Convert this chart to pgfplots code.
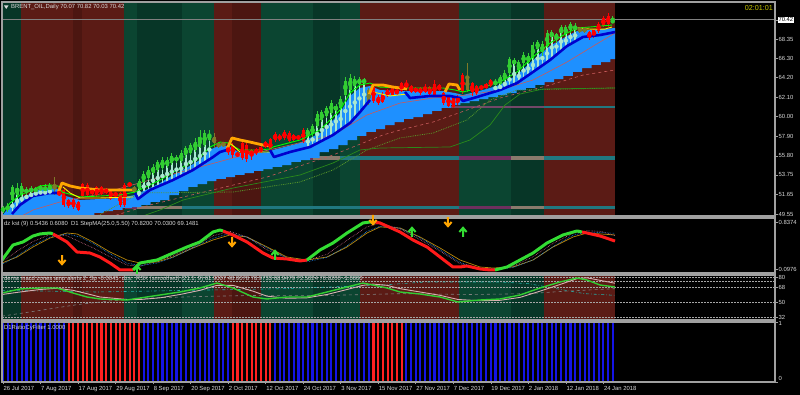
\documentclass[border=0pt]{standalone}
\usepackage{fontspec}
\setmainfont{Liberation Sans}
\usepackage{pgfplots}
\pgfplotsset{compat=1.18}
\usepackage{pgfplotstable}

\definecolor{gL}{HTML}{0B4531}
\definecolor{gD}{HTML}{073627}
\definecolor{rM}{HTML}{5B1B15}
\definecolor{rD}{HTML}{4C1611}
\definecolor{axg}{HTML}{A0A0A0}
\definecolor{txt}{HTML}{D8D8D8}
\definecolor{cbull}{HTML}{32CD32}
\definecolor{cbear}{HTML}{FF0000}
\definecolor{colive}{HTML}{7F7A28}
\definecolor{mint}{HTML}{A8E8D0}
\definecolor{dodger}{HTML}{1E90FF}
\definecolor{mablue}{HTML}{0000CD}
\definecolor{orng}{HTML}{FFA500}
\definecolor{pinkma}{HTML}{C85A5A}
\definecolor{gdot}{HTML}{5A9A2A}
\definecolor{gsol}{HTML}{2A8A1A}
\definecolor{stP}{HTML}{6E2F5E}
\definecolor{stG}{HTML}{8A7A6C}
\definecolor{stT}{HTML}{207880}
\definecolor{kgreen}{HTML}{33DD33}
\definecolor{kred}{HTML}{FF1A1A}
\definecolor{gold}{HTML}{B8860B}
\definecolor{fblue}{HTML}{1414E6}
\definecolor{fred}{HTML}{FF2020}
\definecolor{clk}{HTML}{C8C800}
\definecolor{rsxp}{HTML}{D8B0B0}
\definecolor{teal2}{HTML}{20B2AA}

\pgfdeclareplotmark{darr}{%
 \pgfpathmoveto{\pgfqpoint{0pt}{5pt}}\pgfpathlineto{\pgfqpoint{0pt}{-3.2pt}}%
 \pgfpathmoveto{\pgfqpoint{-3.6pt}{0pt}}\pgfpathlineto{\pgfqpoint{0pt}{-4.2pt}}\pgfpathlineto{\pgfqpoint{3.6pt}{0pt}}%
 \pgfusepathqstroke}
\pgfdeclareplotmark{uarr}{%
 \pgfpathmoveto{\pgfqpoint{0pt}{-5pt}}\pgfpathlineto{\pgfqpoint{0pt}{3.2pt}}%
 \pgfpathmoveto{\pgfqpoint{-3.6pt}{0pt}}\pgfpathlineto{\pgfqpoint{0pt}{4.2pt}}\pgfpathlineto{\pgfqpoint{3.6pt}{0pt}}%
 \pgfusepathqstroke}

\newcommand{\band}[3]{\addplot[fill=#3, draw=none, forget plot] coordinates {(#1,0) (#2,0) (#2,100) (#1,100)};}
\newcommand{\allbands}{%
\band{-0.2132}{3.77}{gD}
\band{3.77}{14.9}{rM}
\band{14.9}{16.85}{rD}
\band{16.85}{25.8}{rM}
\band{25.8}{28.57}{gL}
\band{28.57}{38.17}{gD}
\band{38.17}{45.0}{gL}
\band{45.0}{48.83}{rM}
\band{48.83}{55.0}{rD}
\band{55.0}{66.1}{gL}
\band{66.1}{71.86}{gD}
\band{71.86}{76.12}{gL}
\band{76.12}{97.23}{rM}
\band{97.23}{108.32}{gL}
\band{108.32}{115.35}{gD}
\band{115.35}{130.5}{rM}}

\pgfplotstableread{
i o h l c t
0 49.87 50.41 49.66 50.20 0
1 49.98 50.73 49.77 50.41 0
2 51.05 52.67 50.84 52.45 0
3 51.59 52.88 51.38 52.34 0
4 51.70 52.88 51.27 52.56 0
5 51.81 52.45 51.59 52.24 0
6 51.91 52.56 51.70 52.34 0
7 52.02 52.45 51.81 52.24 0
8 52.13 52.67 51.91 52.56 0
9 52.02 52.77 51.81 52.45 0
10 52.13 52.88 51.81 52.67 0
11 52.45 53.52 51.59 52.34 2
12 51.91 52.13 51.48 51.59 1
13 52.13 52.34 50.30 50.52 1
14 51.05 51.16 50.20 50.41 1
15 51.05 51.27 50.09 50.30 1
16 50.84 50.95 49.87 49.98 1
17 52.77 52.88 51.27 51.48 1
18 52.67 52.88 51.38 51.59 1
19 52.13 52.24 51.59 51.70 1
20 52.45 52.56 51.38 51.59 1
21 52.45 52.56 51.59 51.70 1
22 52.24 52.34 51.70 51.81 1
23 52.13 52.24 51.05 51.16 1
24 51.81 51.91 51.38 51.48 1
25 51.81 51.91 50.30 50.52 1
26 52.67 52.88 50.30 50.52 1
27 52.88 52.99 52.45 52.56 1
28 52.34 52.56 51.81 52.13 2
29 52.24 53.31 52.13 53.09 0
30 52.99 54.17 52.88 53.85 0
31 53.42 54.71 53.20 54.28 0
32 53.95 54.92 53.74 54.60 0
33 54.28 55.35 54.06 55.14 0
34 54.49 55.67 54.28 55.35 0
35 54.71 55.67 54.49 55.35 0
36 55.03 56.10 54.81 55.78 0
37 55.24 55.89 55.03 55.67 0
38 55.24 56.43 55.03 56.10 0
39 55.89 56.86 55.57 56.64 0
40 56.10 57.18 55.89 56.96 0
41 56.43 57.72 56.21 57.28 0
42 56.75 58.57 56.64 57.82 0
43 56.96 58.57 56.75 58.25 0
44 57.50 58.57 57.39 58.14 0
45 57.82 58.25 56.64 57.18 2
46 57.07 57.28 56.64 56.86 2
47 57.18 57.28 56.75 56.96 2
48 56.75 56.86 55.89 56.21 1
49 56.96 57.18 55.57 55.89 1
50 56.10 56.21 55.67 55.78 1
51 57.18 57.28 55.35 55.57 1
52 56.96 57.18 55.14 55.46 1
53 56.43 56.53 55.35 55.78 1
54 56.53 56.64 55.89 56.10 1
55 56.75 56.86 56.10 56.21 1
56 57.28 57.39 56.64 56.75 1
57 57.61 57.72 56.10 56.32 1
58 58.14 58.36 57.28 57.50 1
59 57.93 58.14 57.39 57.61 1
60 58.36 58.57 57.50 57.72 1
61 58.25 58.47 57.18 57.39 1
62 58.04 58.14 57.39 57.50 1
63 57.93 58.04 57.50 57.61 1
64 58.57 58.79 57.18 57.39 1
65 57.93 58.79 57.72 58.57 0
66 58.14 59.22 57.82 59.00 0
67 59.00 60.62 58.79 60.29 0
68 59.65 60.72 59.43 60.51 0
69 60.08 61.15 59.86 60.94 0
70 60.40 61.80 60.19 61.47 0
71 60.72 61.37 60.40 61.15 0
72 60.94 62.23 60.72 61.90 0
73 62.33 64.27 62.23 63.84 0
74 62.87 64.59 62.66 64.16 0
75 63.30 64.38 63.09 64.05 0
76 63.52 64.27 63.30 64.05 0
77 63.73 64.16 63.41 63.95 0
78 62.87 63.09 61.26 61.47 2
79 63.19 63.41 61.47 61.69 1
80 62.12 62.33 61.26 61.47 1
81 62.44 62.66 61.47 61.58 1
82 62.87 62.98 62.12 62.23 1
83 63.09 63.30 62.23 62.33 1
84 62.87 63.09 62.33 62.44 1
85 63.62 63.73 62.66 62.76 1
86 63.62 63.95 62.98 63.09 1
87 63.30 63.41 62.55 62.66 1
88 63.09 63.19 62.55 62.66 1
89 63.09 63.19 62.33 62.55 1
90 63.19 63.52 62.55 62.66 1
91 63.19 63.30 62.23 62.44 1
92 63.52 63.95 62.12 62.33 1
93 63.41 63.52 62.76 62.87 1
94 62.55 62.66 61.26 61.47 1
95 62.12 62.33 61.05 61.15 1
96 62.12 62.23 60.94 61.05 1
97 62.12 62.33 61.26 61.47 1
98 64.48 64.70 62.44 62.66 1
99 64.16 65.77 62.66 62.87 2
100 63.62 63.73 62.23 62.66 1
101 63.30 63.41 62.33 62.55 1
102 63.30 63.41 62.87 62.98 1
103 63.52 63.62 62.98 63.09 1
104 63.95 64.05 63.19 63.30 1
105 63.41 64.05 63.30 63.84 0
106 63.52 64.48 63.41 64.27 0
107 63.95 65.02 63.73 64.70 0
108 64.70 66.42 64.48 66.20 0
109 65.66 66.31 65.45 66.09 0
110 65.02 66.09 64.81 65.88 0
111 65.77 66.95 65.56 66.63 0
112 65.88 66.85 65.66 66.52 0
113 66.31 68.03 66.09 67.71 0
114 67.28 68.24 67.17 68.03 0
115 66.95 68.14 66.52 67.81 0
116 67.60 69.32 67.38 68.99 0
117 68.57 69.32 68.24 69.10 0
118 68.35 68.99 67.92 68.89 0
119 68.99 69.85 68.57 69.64 0
120 68.89 69.85 68.57 69.64 0
121 69.32 70.18 68.99 69.96 0
122 69.32 70.07 69.10 69.75 0
123 69.53 69.64 68.99 69.21 2
124 69.53 69.64 68.99 69.21 2
125 69.10 69.21 68.24 68.46 1
126 69.32 69.42 68.46 68.67 1
127 69.96 70.18 68.99 69.21 1
128 70.61 70.82 69.64 69.75 1
129 70.82 71.14 69.64 69.96 1
130 70.07 70.82 70.03 70.42 0
}\candles

\pgfplotstableread{
i m o
2 49.77 51.05
3 50.30 51.59
4 50.62 51.70
5 50.95 51.81
6 51.27 51.91
7 51.48 52.02
8 51.59 52.13
9 51.70 52.02
10 51.81 52.13
29 51.38 52.24
30 52.02 52.99
31 52.13 53.42
32 52.34 53.95
33 52.56 54.28
34 52.77 54.49
35 52.99 54.71
36 53.20 55.03
37 53.42 55.24
38 53.63 55.24
39 53.95 55.89
40 54.17 56.10
41 54.49 56.43
42 54.81 56.75
43 55.14 56.96
44 55.46 57.50
65 56.75 57.93
66 56.96 58.14
67 57.28 59.00
68 57.50 59.65
69 57.72 60.08
70 57.93 60.40
71 58.25 60.72
72 58.57 60.94
73 58.90 62.33
74 59.33 62.87
75 59.76 63.30
76 60.40 63.52
77 61.05 63.73
105 62.76 63.41
106 62.87 63.52
107 63.09 63.95
108 63.30 64.70
109 63.52 65.66
110 63.73 65.02
111 64.16 65.77
112 64.48 65.88
113 64.81 66.31
114 65.23 67.28
115 65.66 66.95
116 65.99 67.60
117 66.31 68.57
118 66.74 68.35
119 67.17 68.99
120 67.49 68.89
121 67.81 69.32
122 68.14 69.32
}\mintbars

\pgfplotsset{
 base/.style={anchor=south west, scale only axis, width=773pt,
  xmin=-0.2132, xmax=164.606, axis on top,
  axis line style={draw=axg, line width=1.3pt},
  tick style={draw=axg, line width=0.5pt}, tick align=outside, major tick length=2.5pt,
  ytick pos=right, yticklabel pos=right, xtick=\empty,
  ticklabel style={font=\fontsize{5.9}{6}\selectfont, text=txt, inner sep=1pt},
  yticklabel style={anchor=west},
  clip=true},
 wick/.style={color=#1, only marks, mark=none, forget plot, error bars/.cd, y dir=both, y explicit, error mark=none,
   error bar style={line width=0.9pt, color=#1}},
 body/.style={color=#1, only marks, mark=none, forget plot, error bars/.cd, y dir=both, y explicit, error mark=none,
   error bar style={line width=3pt, color=#1}},
}

\begin{document}
\begin{tikzpicture}
\useasboundingbox (0,0) rectangle (800pt,395pt);
\fill[black] (0,0) rectangle (800pt,395pt);

% ===== main pane =====
\begin{axis}[base, at={(2pt,179pt)}, height=214pt, ymin=49.335, ymax=72.33,
  ytick={49.55,51.65,53.75,55.80,57.90,60.00,62.10,64.20,66.30,68.35},
  yticklabels={49.55,51.65,53.75,55.80,57.90,60.00,62.10,64.20,66.30,68.35},
  extra y ticks={70.42}, extra y tick labels={70.42},
  extra y tick style={yticklabel style={fill=white, text=black, inner sep=0.8pt}}]
\allbands
% strips and levels
\addplot[line width=4pt, draw=stP] coordinates {(57.57,55.57) (66.10,55.57)};
\addplot[line width=4pt, draw=stG] coordinates {(66.10,55.57) (71.86,55.57)};
\addplot[line width=4pt, draw=stT] coordinates {(71.86,55.57) (97.23,55.57)};
\addplot[line width=4pt, draw=stP] coordinates {(97.23,55.57) (108.32,55.57)};
\addplot[line width=4pt, draw=stG] coordinates {(108.32,55.57) (115.35,55.57)};
\addplot[line width=4pt, draw=stT] coordinates {(115.35,55.57) (130.5,55.57)};
\addplot[line width=3pt, draw=stP] coordinates {(26.0,50.20) (28.57,50.20)};
\addplot[line width=3pt, draw=stG] coordinates {(28.57,50.20) (38.17,50.20)};
\addplot[line width=3pt, draw=stT] coordinates {(38.17,50.20) (97.23,50.20)};
\addplot[line width=3pt, draw=stP] coordinates {(97.23,50.20) (108.32,50.20)};
\addplot[line width=3pt, draw=stG] coordinates {(108.32,50.20) (115.35,50.20)};
\addplot[line width=3pt, draw=stT] coordinates {(115.35,50.20) (130.5,50.20)};
\addplot[line width=1.2pt, draw=stP!70!gray] coordinates {(75.0,61.05) (115.35,61.05)};
\addplot[line width=1.2pt, draw=stT] coordinates {(115.35,61.05) (130.5,61.05)};
\addplot[line width=0.8pt, draw=gray] coordinates {(-0.2132,70.42) (164.606,70.42)};
% blue cloud: upper edge left to right, then stepped lower edge back
\addplot[fill=dodger, draw=none] coordinates {(-0.2,49.34) (1.49,50.41) (3.62,51.27) (6.40,51.81) (7.89,52.24) (10.02,52.34) (11.73,52.24) (12.58,51.59) (16.42,51.05) (20.68,51.16) (24.95,51.27) (28.14,51.59) (31.34,52.34) (33.48,52.88) (36.25,53.74) (38.38,54.28) (42.00,55.35) (44.14,56.43) (46.27,56.96) (47.97,56.86) (50.53,56.10) (54.16,56.10) (56.93,56.21) (57.57,56.43) (63.33,57.18) (67.59,58.25) (71.86,60.40) (73.99,62.23) (76.12,63.09) (78.25,63.30) (80.38,62.87) (84.65,62.76) (93.82,62.76) (96.38,62.55) (98.08,62.33) (102.35,62.87) (105.97,63.41) (109.59,64.48) (113.01,66.09) (116.63,67.60) (120.26,68.67) (122.39,69.21) (125.16,69.32) (130.5,69.53)
(130.5,66.20) (129.5,66.20) (129.5,65.88) (127.5,65.88) (127.5,65.56) (125.5,65.56) (125.5,65.23) (123.5,65.23) (123.5,64.81) (121.5,64.81) (121.5,64.38) (119.5,64.38) (119.5,64.05) (117.5,64.05) (117.5,63.73) (115.5,63.73) (115.5,63.41) (113.5,63.41) (113.5,63.09) (111.5,63.09) (111.5,62.87) (109.5,62.87) (109.5,62.55) (107.5,62.55) (107.5,62.33) (105.5,62.33) (105.5,62.12) (103.5,62.12) (103.5,61.90) (101.5,61.90) (101.5,61.69) (99.5,61.69) (99.5,61.47) (97.5,61.47) (97.5,61.26) (95.5,61.26) (95.5,60.94) (93.5,60.94) (93.5,60.62) (91.5,60.62) (91.5,60.29) (89.5,60.29) (89.5,59.97) (87.5,59.97) (87.5,59.76) (85.5,59.76) (85.5,59.43) (83.5,59.43) (83.5,59.11) (81.5,59.11) (81.5,58.68) (79.5,58.68) (79.5,58.36) (77.5,58.36) (77.5,57.93) (75.5,57.93) (75.5,57.50) (73.5,57.50) (73.5,56.96) (71.5,56.96) (71.5,56.53) (69.5,56.53) (69.5,56.21) (67.5,56.21) (67.5,55.57) (65.5,55.57) (65.5,55.35) (63.5,55.35) (63.5,55.14) (61.5,55.14) (61.5,54.81) (59.5,54.81) (59.5,54.60) (57.5,54.60) (57.5,54.38) (55.5,54.38) (55.5,54.17) (53.5,54.17) (53.5,53.95) (51.5,53.95) (51.5,53.74) (49.5,53.74) (49.5,53.52) (47.5,53.52) (47.5,53.31) (45.5,53.31) (45.5,53.09) (43.5,53.09) (43.5,52.77) (41.5,52.77) (41.5,52.45) (39.5,52.45) (39.5,52.02) (37.5,52.02) (37.5,51.59) (35.5,51.59) (35.5,51.05) (33.5,51.05) (33.5,50.84) (31.5,50.84) (31.5,50.52) (29.5,50.52) (29.5,50.30) (27.5,50.30) (27.5,50.20) (25.5,50.20) (25.5,49.98) (23.5,49.98) (23.5,49.87) (21.5,49.87) (21.5,49.66) (19.5,49.66) (19.5,49.44) (17.5,49.44) (17.5,49.23) (-0.2,49.23)};
% moving averages
\addplot[pinkma, line width=0.6pt] coordinates {(3.62,49.23) (6.40,49.98) (12.15,50.84) (20.68,51.70) (31.34,53.20) (42.00,54.60) (49.04,55.57) (57.57,56.53) (70.36,58.04) (77.61,60.19) (84.65,61.47) (91.68,62.01) (98.93,62.33) (105.97,62.87) (113.01,63.95) (120.26,65.88) (127.29,68.03) (130.49,68.99)};
\addplot[pinkma, line width=0.6pt, dashed] coordinates {(22.81,49.23) (31.34,50.52) (42.00,51.81) (56.29,53.52) (70.36,55.89) (81.02,58.04) (84.65,58.57) (91.68,59.43) (98.93,60.72) (105.97,62.01) (116.63,63.41) (123.67,64.48) (130.49,65.02)};
\addplot[gdot, line width=0.8pt, densely dotted] coordinates {(20,49.30) (29.2,51.81) (49.04,51.91) (63.33,52.99) (70.36,54.28) (77.61,56.43) (84.65,57.72) (91.68,58.25) (98.93,59.65) (103.84,61.80) (109.59,62.87) (130.49,63.09)};
\addplot[gsol, line width=0.7pt] coordinates {(29.21,49.23) (33.48,49.98) (38.38,51.05) (49.04,52.34) (63.33,53.74) (70.36,55.03) (76.12,56.43) (80.38,56.64) (95.31,56.75) (99.57,57.50) (103.84,59.11) (107.04,61.26) (110.23,62.44) (115.14,62.98) (130.49,63.09)};
% mint bars and candles
\addplot[color=mint, only marks, mark=none, error bars/.cd, y dir=both, y explicit, error mark=none, error bar style={line width=1.7pt, color=mint}]
  table[x=i, y expr={(\thisrow{m}+\thisrow{o})/2}, y error expr={(\thisrow{o}-\thisrow{m})/2}] {\mintbars};
\addplot[restrict expr to domain={\thisrow{t}}{0:0}, wick=cbull] table[x=i, y expr={(\thisrow{h}+\thisrow{l})/2}, y error expr={(\thisrow{h}-\thisrow{l})/2}] {\candles};
\addplot[restrict expr to domain={\thisrow{t}}{0:0}, body=cbull] table[x=i, y expr={(\thisrow{o}+\thisrow{c})/2}, y error expr={max(abs(\thisrow{c}-\thisrow{o})/2,0.06)}] {\candles};
\addplot[restrict expr to domain={\thisrow{t}}{1:1}, wick=cbear] table[x=i, y expr={(\thisrow{h}+\thisrow{l})/2}, y error expr={(\thisrow{h}-\thisrow{l})/2}] {\candles};
\addplot[restrict expr to domain={\thisrow{t}}{1:1}, body=cbear] table[x=i, y expr={(\thisrow{o}+\thisrow{c})/2}, y error expr={max(abs(\thisrow{c}-\thisrow{o})/2,0.06)}] {\candles};
\addplot[restrict expr to domain={\thisrow{t}}{2:2}, wick=colive] table[x=i, y expr={(\thisrow{h}+\thisrow{l})/2}, y error expr={(\thisrow{h}-\thisrow{l})/2}] {\candles};
\addplot[restrict expr to domain={\thisrow{t}}{2:2}, body=colive] table[x=i, y expr={(\thisrow{o}+\thisrow{c})/2}, y error expr={max(abs(\thisrow{c}-\thisrow{o})/2,0.06)}] {\candles};
% trend lines
\addplot[green, line width=0.9pt] coordinates {(-0.2,49.66) (1.49,50.73) (3.62,51.59) (6.40,52.13) (7.89,52.56) (10.02,52.67) (11.73,52.56) (12.58,51.91) (16.42,51.38) (20.68,51.48) (24.95,51.59) (28.14,51.91) (31.34,52.67) (33.48,53.20) (36.25,54.06) (38.38,54.60) (42.00,55.67) (44.14,56.75) (46.27,57.28) (47.97,57.18) (50.53,56.43) (54.16,56.43) (56.93,56.53) (57.57,56.75) (63.33,57.50) (67.59,58.57) (71.86,60.72) (73.99,62.55) (76.12,63.41) (78.25,63.62) (80.38,63.19) (84.65,63.09) (93.82,63.09) (96.38,62.87) (98.08,62.66) (102.35,63.19) (105.97,63.73) (109.59,64.81) (113.01,66.42) (116.63,67.92) (120.26,68.99) (122.39,69.53) (125.16,69.64) (129.85,69.85)};
\addplot[yellow, line width=0.9pt] coordinates {(12.79,52.45) (14.30,51.81) (16.42,51.27) (20.68,51.27) (27.72,51.38)};
\addplot[yellow, line width=0.9pt] coordinates {(48.40,57.18) (50.53,56.21) (54.16,56.21) (56.93,56.21)};
\addplot[yellow, line width=0.9pt] coordinates {(78.89,62.66) (82.52,62.23) (86.14,62.44)};
\addplot[yellow, line width=0.9pt] coordinates {(122.60,69.53) (125.16,69.42) (128.36,69.42) (129.85,69.64)};
\addplot[orng, line width=2.8pt, line join=round] coordinates {(11.73,51.81) (12.58,52.88) (14.30,52.56) (16.42,52.34) (20.68,52.13) (27.72,52.13) (28.14,52.02)};
\addplot[orng, line width=2.8pt, line join=round] coordinates {(47.76,56.53) (48.83,57.72) (50.53,57.50) (52.67,57.28) (55.44,56.96) (56.93,56.86)};
\addplot[orng, line width=2.8pt, line join=round] coordinates {(78.04,62.33) (78.89,63.41) (81.02,63.41) (83.16,63.19) (84.65,63.09) (86.14,62.98)};
\addplot[orng, line width=2.8pt, line join=round] coordinates {(94.24,62.66) (95.10,63.52) (96.80,63.41) (97.44,62.87)};
\addplot[mablue, line width=2.6pt, line join=round] coordinates {(1.92,49.55) (3.62,50.52) (6.40,51.49) (10.02,51.81) (11.73,51.81)};
\addplot[mablue, line width=2.6pt, line join=round] coordinates {(28.14,51.81) (28.78,51.16) (31.34,52.13) (36.25,53.20) (40.51,54.28) (44.78,55.67) (46.27,56.21) (47.76,56.43)};
\addplot[mablue, line width=2.6pt, line join=round] coordinates {(56.93,56.43) (57.78,55.67) (61.19,56.21) (65.46,56.75) (70.36,58.04) (73.99,59.33) (76.12,60.51) (78.25,61.80)};
\addplot[mablue, line width=2.6pt, line join=round] coordinates {(85.71,62.66) (86.78,62.01) (91.04,62.23) (95.31,62.23) (97.44,62.01) (98.08,61.69) (101.07,62.12) (105.97,62.87) (109.59,63.62) (113.01,64.81) (116.63,66.09) (120.26,67.60) (123.67,68.57) (127.29,68.78) (130.49,69.10)};
\end{axis}

% ===== KST pane =====
\begin{axis}[base, at={(2pt,122pt)}, height=55pt, ymin=0.0346, ymax=0.9003,
  ytick={0.0976,0.8374}, yticklabels={0.0976,0.8374}]
\addplot[gold, line width=0.7pt] coordinates {(-0.21,0.192) (2.99,0.286) (6.40,0.444) (10.02,0.585) (13.65,0.664) (15.78,0.649) (19.19,0.523) (22.81,0.365) (26.44,0.239) (29.21,0.192) (32.84,0.208) (36.25,0.286) (40.51,0.428) (44.78,0.554) (48.40,0.633) (52.03,0.601) (56.29,0.444) (60.55,0.286) (64.82,0.239) (69.08,0.286) (73.35,0.444) (77.61,0.664) (80.38,0.759) (84.65,0.743) (88.91,0.601) (93.18,0.428) (97.44,0.239) (101.71,0.129) (104.48,0.113) (108.74,0.129) (113.01,0.239) (117.27,0.444) (121.54,0.601) (124.52,0.664) (130.49,0.633)};
\addplot[color={rgb,255:red,208;green,112;blue,144}, line width=0.6pt, densely dotted] coordinates {(-0.21,0.21) (2.99,0.38) (6.40,0.53) (10.02,0.64) (13.65,0.62) (16.5,0.52) (19.19,0.43) (22.81,0.29) (26.44,0.16) (29.21,0.14) (32.84,0.22) (36.25,0.31) (40.51,0.44) (44.78,0.62) (48.40,0.69) (52.03,0.60) (56.29,0.40) (60.55,0.27) (64.82,0.23) (69.08,0.33) (73.35,0.55) (77.61,0.76) (80.38,0.82) (84.65,0.73) (88.91,0.56) (93.18,0.38) (97.44,0.18) (101.71,0.11) (104.48,0.10) (108.74,0.14) (113.01,0.29) (117.27,0.50) (121.54,0.66) (124.52,0.70) (127.5,0.69) (130.49,0.62)};
\addplot[dodger, line width=0.6pt, densely dotted] coordinates {(-0.21,0.17) (2.99,0.30) (6.40,0.47) (10.02,0.60) (13.65,0.65) (16.5,0.60) (19.19,0.50) (22.81,0.34) (26.44,0.19) (29.21,0.15) (32.84,0.19) (36.25,0.28) (40.51,0.43) (44.78,0.58) (48.40,0.66) (52.03,0.60) (56.29,0.43) (60.55,0.27) (64.82,0.21) (69.08,0.28) (73.35,0.46) (77.61,0.69) (80.38,0.77) (84.65,0.74) (88.91,0.59) (93.18,0.40) (97.44,0.20) (101.71,0.10) (104.48,0.09) (108.74,0.12) (113.01,0.24) (117.27,0.45) (121.54,0.63) (124.52,0.68) (130.49,0.66)};
\addplot[kgreen, line width=3pt, line join=round] coordinates {(-0.21,0.239) (2.13,0.475) (4.26,0.523) (6.40,0.617) (7.89,0.649) (10.02,0.664) (10.66,0.649)};
\addplot[kred, line width=3pt, line join=round] coordinates {(10.66,0.649) (13.65,0.523) (15.78,0.365) (18.55,0.349) (20.68,0.286) (22.81,0.192) (24.95,0.082) (27.72,0.082)};
\addplot[kgreen, line width=3pt, line join=round] coordinates {(27.72,0.082) (29.21,0.192) (32.84,0.239) (36.25,0.349) (39.23,0.444) (42.00,0.523) (44.78,0.680) (46.27,0.711) (46.91,0.696)};
\addplot[kred, line width=3pt, line join=round] coordinates {(46.91,0.696) (49.04,0.633) (52.03,0.523) (55.44,0.349) (57.57,0.271) (60.55,0.255) (63.33,0.224) (64.82,0.239)};
\addplot[kgreen, line width=3pt, line join=round] coordinates {(64.82,0.239) (67.59,0.397) (70.36,0.507) (73.35,0.664) (76.76,0.822) (78.25,0.837) (79.32,0.837)};
\addplot[kred, line width=3pt, line join=round] coordinates {(79.32,0.837) (80.38,0.822) (84.65,0.680) (87.42,0.554) (90.41,0.444) (93.18,0.286) (95.95,0.129) (97.44,0.129) (98.93,0.145) (101.71,0.098) (103.84,0.082) (104.90,0.082)};
\addplot[kgreen, line width=3pt, line join=round] coordinates {(104.90,0.082) (107.46,0.129) (110.23,0.239) (113.01,0.349) (115.99,0.507) (119.40,0.633) (122.39,0.696) (123.45,0.680)};
\addplot[kred, line width=3pt, line join=round] coordinates {(123.45,0.680) (124.52,0.664) (127.29,0.617) (130.49,0.538)};
\addplot[only marks, mark=darr, mark options={draw=orng, line width=2pt}] coordinates {(12.58,0.239) (48.83,0.523) (78.89,0.869) (94.88,0.837)};
\addplot[only marks, mark=uarr, mark options={draw=kgreen, line width=2pt}] coordinates {(28.57,0.082) (58.0,0.318) (87.2,0.680) (98.08,0.680)};
\end{axis}

% ===== RSX pane =====
\begin{axis}[base, at={(2pt,75pt)}, height=45pt, ymin=28.4, ymax=82.4,
  ytick={32,50,68,80}, yticklabels={32,50,68,80}]
\allbands
\addplot[gray!70, line width=0.4pt, dash pattern=on 1.5pt off 1.5pt] coordinates {(-0.2132,80) (164.606,80)};
\addplot[gray!70, line width=0.4pt, dash pattern=on 1.5pt off 1.5pt] coordinates {(-0.2132,75) (164.606,75)};
\addplot[gray!70, line width=0.4pt, dash pattern=on 1.5pt off 1.5pt] coordinates {(-0.2132,68) (164.606,68)};
\addplot[gray!70, line width=0.4pt, dash pattern=on 1.5pt off 1.5pt] coordinates {(-0.2132,50) (164.606,50)};
\addplot[gray!70, line width=0.4pt, dash pattern=on 1.5pt off 1.5pt] coordinates {(-0.2132,32) (164.606,32)};
\addplot[teal2, line width=0.6pt, dash dot] coordinates {(-0.21,64) (20,62) (40,64) (60,66) (80,70) (90,74) (106,74) (112,72) (118,66) (124,60) (130.49,58)};
\addplot[gray, line width=0.6pt, dashed] coordinates {(-0.21,33) (8,40) (16,47) (24,52) (32,55) (45,57) (56,58) (70,58) (85,60) (100,59) (112,60) (120,63) (130.49,66)};
\addplot[rsxp, line width=0.9pt] coordinates {(-0.21,59) (3.62,62) (7.89,65) (11.51,66.5) (14.93,64) (17.91,60) (20.68,56) (26.44,53) (29.21,53) (33.48,55) (37.74,59) (42.00,64) (45.63,70) (49.04,70) (53.30,63) (56.29,57) (60.55,54.5) (64.82,55) (69.08,59) (73.35,65) (76.76,70) (78.89,71.5) (81.88,70) (84.65,66) (88.91,62) (93.18,58) (97.01,53) (101.71,51.5) (105.97,52) (110.23,55.5) (114.50,63) (118.76,71) (122.39,78) (124.52,79) (127.29,76) (130.49,72.5)};
\addplot[cbull, line width=1.4pt] coordinates {(-0.21,60.8) (3.62,65.6) (7.89,66.8) (11.51,66.8) (14.93,60.8) (17.91,56.0) (20.68,53.6) (26.44,52.4) (29.21,54.8) (33.48,58.4) (37.74,62.0) (42.00,66.8) (45.63,72.8) (49.04,66.8) (53.30,56.0) (56.29,53.6) (60.55,56.0) (64.82,56.0) (69.08,62.0) (73.35,68.0) (76.76,72.8) (78.89,70.4) (81.88,66.8) (84.65,62.0) (88.91,59.6) (93.18,56.0) (97.01,50.0) (101.71,52.4) (105.97,53.6) (110.23,58.4) (114.50,66.8) (118.76,74.0) (122.39,78.8) (124.52,76.4) (127.29,70.4) (130.49,68.0)};
\end{axis}

% ===== filter pane =====
\begin{axis}[base, at={(2pt,13pt)}, height=60pt, ymin=0, ymax=1,
  ytick={0}, yticklabels={0}, yticklabel style={yshift=4pt},
  extra y ticks={1}, extra y tick labels={1}, extra y tick style={yticklabel style={yshift=-5pt}},
  xtick={0,8,16,24,32,40,48,56,64,72,80,88,96,104,112,120,128}, xtick pos=bottom,
  xticklabels={26 Jul 2017,7 Aug 2017,17 Aug 2017,29 Aug 2017,8 Sep 2017,20 Sep 2017,2 Oct 2017,12 Oct 2017,24 Oct 2017,3 Nov 2017,15 Nov 2017,27 Nov 2017,7 Dec 2017,19 Dec 2017,2 Jan 2018,12 Jan 2018,24 Jan 2018},
  xticklabel style={anchor=north west, inner sep=0pt, yshift=-1.5pt, xshift=0.5pt}]
\addplot[ycomb, draw=fblue, line width=2.1pt] coordinates {(0,1) (1,1) (2,1) (3,1) (4,1) (5,1) (6,1) (7,1) (8,1) (9,1) (10,1) (11,1) (12,1) (13,1) (30,1) (31,1) (32,1) (33,1) (34,1) (35,1) (36,1) (37,1) (38,1) (39,1) (40,1) (41,1) (42,1) (43,1) (44,1) (45,1) (46,1) (47,1) (48,1) (58,1) (59,1) (60,1) (61,1) (62,1) (63,1) (64,1) (65,1) (66,1) (67,1) (68,1) (69,1) (70,1) (71,1) (72,1) (73,1) (74,1) (75,1) (76,1) (77,1) (78,1) (86,1) (87,1) (88,1) (89,1) (90,1) (91,1) (92,1) (93,1) (94,1) (95,1) (96,1) (97,1) (98,1) (99,1) (100,1) (101,1) (102,1) (103,1) (104,1) (105,1) (106,1) (107,1) (108,1) (109,1) (110,1) (111,1) (112,1) (113,1) (114,1) (115,1) (116,1) (117,1) (118,1) (119,1) (120,1) (121,1) (122,1) (123,1) (124,1) (125,1) (126,1) (127,1) (128,1) (129,1) (130,1)};
\addplot[ycomb, draw=fred, line width=2.1pt] coordinates {(14,1) (15,1) (16,1) (17,1) (18,1) (19,1) (20,1) (21,1) (22,1) (23,1) (24,1) (25,1) (26,1) (27,1) (28,1) (29,1) (49,1) (50,1) (51,1) (52,1) (53,1) (54,1) (55,1) (56,1) (57,1) (79,1) (80,1) (81,1) (82,1) (83,1) (84,1) (85,1)};
\end{axis}

% ===== texts =====
\fill[txt] (4pt,389.5pt) -- (8.5pt,389.5pt) -- (6.25pt,386pt) -- cycle;
\node[anchor=base west, inner sep=0pt, text=txt, font=\fontsize{5.9}{7}\selectfont] at (11pt,386.5pt) {BRENT\_OIL,Daily 70.07 70.82 70.03 70.42};
\node[anchor=base east, inner sep=0pt, text=clk, font=\fontsize{7.2}{8}\selectfont] at (773pt,384pt) {02:01:01};
\node[anchor=base west, inner sep=0pt, text=txt, font=\fontsize{5.9}{7}\selectfont] at (4pt,169pt) {dz kst (9) 0.5436 0.6080\ \ D1 StepMA(25.0,5.50) 70.8200 70.0300 69.1481};
\node[anchor=base west, inner sep=0pt, text=txt, font=\fontsize{5.9}{7}\selectfont] at (4pt,114pt) {dema macd zones amp alerts 2\_Sp -0.0045\ \ dzs:\ \ RSX (smoothed) (21.1, 9) 61.9007 48.8078 78.9733 68.9479 72.5024 70.8200 -1.0000};
\node[anchor=base west, inner sep=0pt, text=txt, font=\fontsize{5.9}{7}\selectfont] at (4pt,65pt) {D1RatioCyFilter 1.0000};
\end{tikzpicture}
\end{document}
